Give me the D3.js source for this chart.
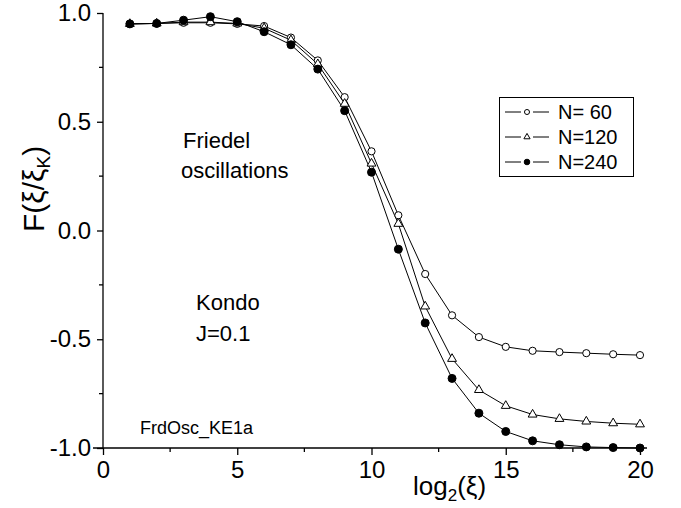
<!DOCTYPE html>
<html>
<head>
<meta charset="utf-8">
<script src="https://cdn.jsdelivr.net/npm/d3@7"></script>
<style>
  html, body { margin: 0; padding: 0; background: #fff; }
  svg { display: block; font-family: "Liberation Sans", Arial, sans-serif; }
</style>
</head>
<body>
<svg id="chart" width="681" height="508"></svg>
<script>
// log2(xi) sample points
const xs = [1, 2, 3, 4, 5, 6, 7, 8, 9, 10, 11, 12, 13, 14, 15, 16, 17, 18, 19, 20];

// F(xi/xi_K) for each chain length
const n60  = [0.950, 0.952, 0.955, 0.955, 0.950, 0.940, 0.887, 0.782, 0.613, 0.364, 0.070, -0.200, -0.390, -0.490, -0.535, -0.553, -0.559, -0.564, -0.569, -0.573];
const n120 = [0.950, 0.952, 0.958, 0.958, 0.952, 0.930, 0.875, 0.765, 0.583, 0.308, 0.031, -0.349, -0.590, -0.733, -0.806, -0.846, -0.866, -0.878, -0.886, -0.891];
const n240 = [0.950, 0.952, 0.967, 0.983, 0.960, 0.914, 0.854, 0.742, 0.551, 0.268, -0.086, -0.425, -0.680, -0.840, -0.924, -0.967, -0.985, -0.995, -0.998, -1.000];

const seriesNames = ["N= 60", "N=120", "N=240"];
const seriesSymbols = ["open-circle", "open-triangle", "filled-circle"];

const xTicks = [0, 5, 10, 15, 20];
const xMinorTicks = [2.5, 7.5, 12.5, 17.5];
const yTicks = [-1.0, -0.5, 0.0, 0.5, 1.0];
const yMinorTicks = [-0.75, -0.25, 0.25, 0.75];

const series = [n60, n120, n240].map((vals, i) => ({
  name: seriesNames[i],
  symbol: seriesSymbols[i],
  points: xs.map((x, j) => ({ x, y: vals[j] }))
}));

const svg = d3.select("#chart");
const x = d3.scaleLinear().domain([0, 20]).range([103, 640]);
const y = d3.scaleLinear().domain([-1, 1]).range([448, 13]);

// ---- axes ----
const axisColor = "#000";
const labelFont = 24;

// x axis: main line, major/minor ticks pointing down
const gx = svg.append("g").attr("transform", `translate(0,${y(-1)})`);
gx.append("line").attr("x1", 93).attr("x2", 647).attr("y1", 0).attr("y2", 0)
  .attr("stroke", axisColor).attr("stroke-width", 1.3);
gx.call(d3.axisBottom(x).tickValues(xTicks).tickSize(7).tickSizeOuter(0).tickPadding(6)
    .tickFormat(d3.format("d")))
  .call(g => g.select(".domain").remove());
gx.selectAll(".tick line").attr("stroke", axisColor).attr("stroke-width", 1.3);
gx.selectAll(".tick text").attr("font-size", labelFont).attr("fill", "#000")
  .attr("font-family", "Liberation Sans, Arial, sans-serif");
gx.selectAll(".minor").data(xMinorTicks).enter().append("line")
  .attr("x1", d => x(d)).attr("x2", d => x(d)).attr("y1", 0).attr("y2", 4)
  .attr("stroke", axisColor).attr("stroke-width", 1.3);

// y axis: main line, ticks pointing left
const gy = svg.append("g").attr("transform", `translate(${x(0)},0)`);
gy.append("line").attr("x1", 0).attr("x2", 0).attr("y1", y(1)).attr("y2", y(-1))
  .attr("stroke", axisColor).attr("stroke-width", 1.3);
gy.call(d3.axisLeft(y).tickValues(yTicks).tickSize(6).tickSizeOuter(0).tickPadding(6)
    .tickFormat(d3.format(".1f")))
  .call(g => g.select(".domain").remove());
gy.selectAll(".tick line").attr("stroke", axisColor).attr("stroke-width", 1.3);
gy.selectAll(".tick text").attr("font-size", labelFont).attr("fill", "#000")
  .attr("font-family", "Liberation Sans, Arial, sans-serif")
  .text(d => d3.format(".1f")(d).replace("−", "-"));
gy.selectAll(".minor").data(yMinorTicks).enter().append("line")
  .attr("x1", -4).attr("x2", 0).attr("y1", d => y(d)).attr("y2", d => y(d))
  .attr("stroke", axisColor).attr("stroke-width", 1.3);

// ---- series lines ----
const line = d3.line().x(d => x(d.x)).y(d => y(d.y));
svg.append("g").selectAll("path").data(series).enter().append("path")
  .attr("d", d => line(d.points))
  .attr("fill", "none").attr("stroke", "#000").attr("stroke-width", 1);

// ---- markers ----
function drawMarker(sel, symbol, scale) {
  const s = scale || 1;
  if (symbol === "open-circle") {
    sel.append("circle").attr("r", 3.6 * s).attr("fill", "#fff")
      .attr("stroke", "#000").attr("stroke-width", 1);
  } else if (symbol === "open-triangle") {
    sel.append("path")
      .attr("d", d3.symbol().type(d3.symbolTriangle).size(34 * s * s)())
      .attr("fill", "#fff").attr("stroke", "#000").attr("stroke-width", 1);
  } else {
    sel.append("circle").attr("r", 4 * s).attr("fill", "#000")
      .attr("stroke", "#000").attr("stroke-width", 1);
  }
}

series.forEach(s => {
  const g = svg.append("g");
  s.points.forEach(p => {
    const m = g.append("g").attr("transform", `translate(${x(p.x)},${y(p.y)})`);
    drawMarker(m, s.symbol, 1);
  });
});

// ---- legend ----
const legend = svg.append("g");
legend.append("rect").attr("x", 499.5).attr("y", 97.5).attr("width", 134).attr("height", 79)
  .attr("fill", "#fff").attr("stroke", "#000").attr("stroke-width", 1);
series.forEach((s, i) => {
  const cy = 112 + i * 25;
  // line sample broken on both sides of the symbol
  legend.append("line").attr("x1", 505).attr("x2", 521).attr("y1", cy).attr("y2", cy)
    .attr("stroke", "#000").attr("stroke-width", 1);
  legend.append("line").attr("x1", 533).attr("x2", 549).attr("y1", cy).attr("y2", cy)
    .attr("stroke", "#000").attr("stroke-width", 1);
  const m = legend.append("g").attr("transform", `translate(527,${cy})`);
  drawMarker(m, s.symbol, 0.7);
  legend.append("text").attr("x", 558).attr("y", cy + 7).attr("font-size", 20)
    .text(s.name);
});

// ---- annotations ----
const notes = [
  { text: "Friedel", x: 183, y: 148, size: 22 },
  { text: "oscillations", x: 181, y: 178, size: 22 },
  { text: "Kondo", x: 196, y: 310, size: 22 },
  { text: "J=0.1", x: 196, y: 341, size: 22 },
  { text: "FrdOsc_KE1a", x: 140, y: 434, size: 18 }
];
svg.append("g").selectAll("text").data(notes).enter().append("text")
  .attr("x", d => d.x).attr("y", d => d.y).attr("font-size", d => d.size)
  .text(d => d.text);

// ---- axis titles ----
const xt = svg.append("text").attr("x", 413).attr("y", 495).attr("font-size", 26);
xt.append("tspan").text("log");
xt.append("tspan").attr("font-size", 17).attr("dy", 6).text("2");
xt.append("tspan").attr("dy", -6).text("(ξ)");

const yt = svg.append("text")
  .attr("transform", "translate(44,232) rotate(-90)")
  .attr("font-size", 30);
yt.append("tspan").text("F(");
yt.append("tspan").text("ξ/ξ");
yt.append("tspan").attr("font-size", 19).attr("dy", 6).text("K");
yt.append("tspan").attr("dy", -6).text(")");
</script>
</body>
</html>
